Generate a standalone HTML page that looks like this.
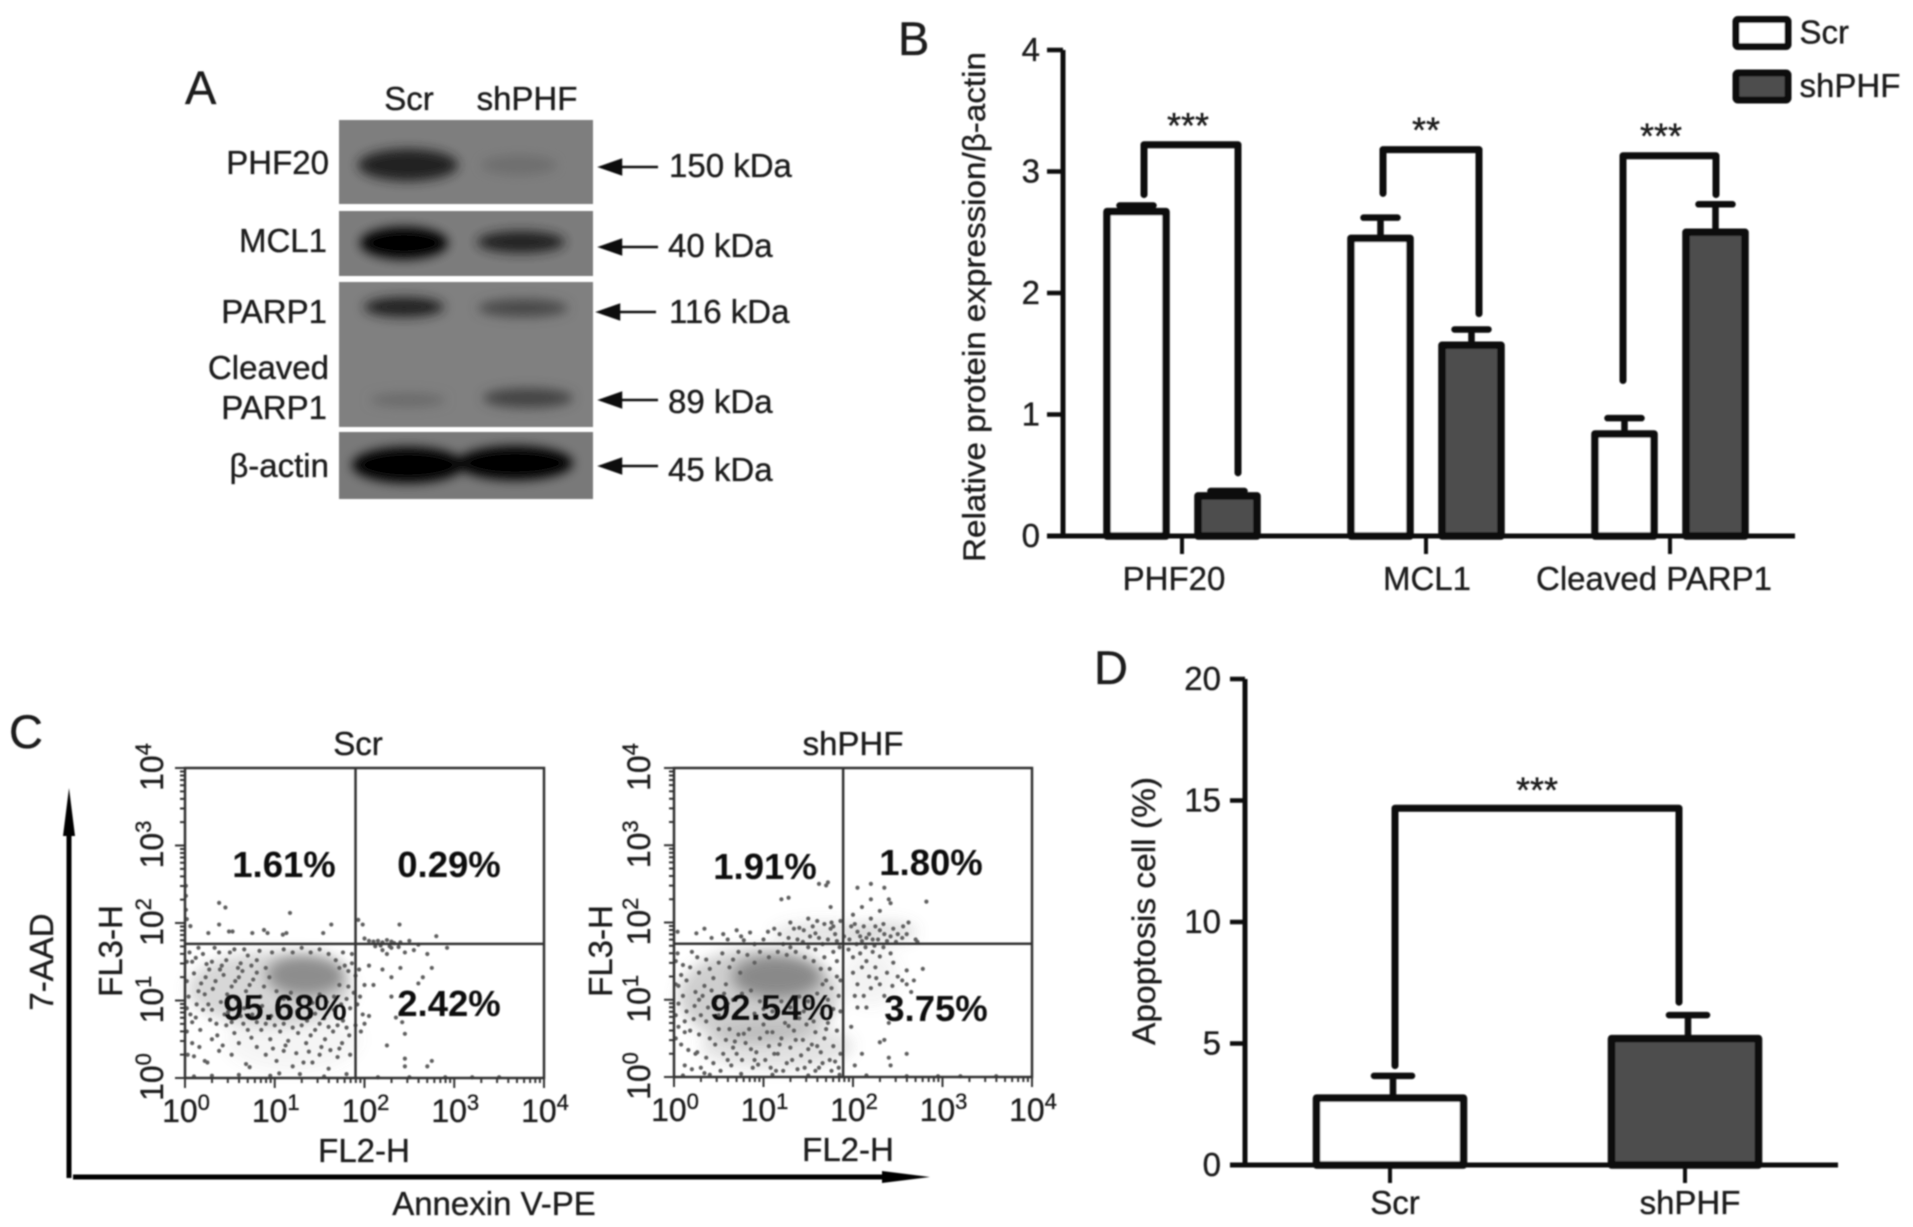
<!DOCTYPE html>
<html lang="en">
<head>
<meta charset="utf-8">
<title>PHF20 knockdown figure</title>
<style>
html,body{margin:0;padding:0;background:#fff;width:1913px;height:1227px;overflow:hidden}
svg{display:block}
text{font-family:"Liberation Sans",sans-serif;fill:#1a1a1a;stroke:#1a1a1a;stroke-width:.35}
</style>
</head>
<body>
<svg id="fig" xmlns="http://www.w3.org/2000/svg" width="1913" height="1227" viewBox="0 0 1913 1227">
<defs>
<filter id="soft" x="-2%" y="-2%" width="104%" height="104%"><feGaussianBlur stdDeviation="0.7"/></filter>
<filter id="bandBlur" x="-50%" y="-80%" width="200%" height="260%"><feGaussianBlur stdDeviation="5.5"/></filter>
<filter id="densBlur" x="-50%" y="-50%" width="200%" height="200%"><feGaussianBlur stdDeviation="7"/></filter>
</defs>
<rect width="1913" height="1227" fill="#fff"/>
<g id="root" filter="url(#soft)">

<!-- PANEL A -->
<g>
<text x="185" y="104" font-size="47">A</text>
<text x="409" y="110" font-size="33" text-anchor="middle">Scr</text>
<text x="527" y="110" font-size="33" text-anchor="middle">shPHF</text>
<rect x="339" y="120" width="254" height="84" fill="#7e7e7e"/>
<rect x="339" y="211" width="254" height="65" fill="#7c7c7c"/>
<rect x="339" y="282" width="254" height="145" fill="#808080"/>
<rect x="339" y="432" width="254" height="67" fill="#797979"/>
<clipPath id="c1"><rect x="339" y="120" width="254" height="84"/></clipPath>
<clipPath id="c2"><rect x="339" y="211" width="254" height="65"/></clipPath>
<clipPath id="c3"><rect x="339" y="282" width="254" height="145"/></clipPath>
<clipPath id="c4"><rect x="339" y="432" width="254" height="67"/></clipPath>
<g clip-path="url(#c1)"><g filter="url(#bandBlur)">
<ellipse cx="408" cy="165" rx="50" ry="16" fill="#222"/>
<ellipse cx="519" cy="165" rx="38" ry="10" fill="#6e6e6e"/>
</g></g>
<g clip-path="url(#c2)"><g filter="url(#bandBlur)">
<ellipse cx="404" cy="243" rx="44" ry="16" fill="#050505"/>
<ellipse cx="521" cy="242" rx="44" ry="11" fill="#222"/>
</g></g>
<g clip-path="url(#c3)"><g filter="url(#bandBlur)">
<ellipse cx="404" cy="307" rx="40" ry="10" fill="#222"/>
<ellipse cx="523" cy="308" rx="45" ry="9" fill="#4a4a4a"/>
<ellipse cx="408" cy="400" rx="38" ry="7" fill="#6a6a6a"/>
<ellipse cx="528" cy="398" rx="45" ry="10" fill="#444"/>
</g></g>
<g clip-path="url(#c4)"><g filter="url(#bandBlur)">
<ellipse cx="408" cy="465" rx="56" ry="18" fill="#000"/>
<ellipse cx="515" cy="463" rx="58" ry="17" fill="#000"/>
</g></g>
<g font-size="33" text-anchor="end">
<text x="329" y="174">PHF20</text>
<text x="327" y="252">MCL1</text>
<text x="327" y="323">PARP1</text>
<text x="329" y="379">Cleaved</text>
<text x="327" y="419">PARP1</text>
<text x="329" y="477">β-actin</text>
</g>
<g font-size="33">
<text x="669" y="177">150 kDa</text>
<text x="668" y="257">40 kDa</text>
<text x="669" y="323">116 kDa</text>
<text x="668" y="413">89 kDa</text>
<text x="668" y="481">45 kDa</text>
</g>
<g fill="#111" stroke="#111" stroke-width="2.5">
<path d="M601 167l20-7v14zM621 167h37"/>
<path d="M601 247l20-7v14zM621 247h37"/>
<path d="M599 312l20-7v14zM619 312h37"/>
<path d="M601 400l20-7v14zM621 400h37"/>
<path d="M601 466l20-7v14zM621 466h37"/>
</g>
</g>

<g id="panelB">
<text x="898" y="55" font-size="47">B</text>
</g>

<g id="panelC">
<text x="9" y="748" font-size="47">C</text>
<text transform="translate(53,962) rotate(-90)" font-size="33" text-anchor="middle">7-AAD</text>
<text x="494" y="1215" font-size="33" text-anchor="middle">Annexin V-PE</text>
<path d="M69 1178V830" stroke="#000" stroke-width="5" fill="none"/>
<path d="M69 788l6 48h-12z" fill="#000"/>
<path d="M73 1177H885" stroke="#000" stroke-width="5" fill="none"/>
<path d="M930 1177l-48 6v-12z" fill="#000"/>
</g>

<g id="panelD">
<text x="1094" y="684" font-size="47">D</text>
</g>
</g>
</svg>

<script>
// ---------- Panel B data ----------
const bCategories = ['PHF20', 'MCL1', 'Cleaved PARP1'];
const bSeriesNames = ['Scr', 'shPHF'];
const bScrValues = [2.67, 2.45, 0.84];
const bShphfValues = [0.33, 1.57, 2.50];
const bScrErrors = [0.05, 0.17, 0.13];
const bShphfErrors = [0.04, 0.13, 0.23];
const bTicks = [0, 1, 2, 3, 4];
const bSigLabels = ['***', '**', '***'];
const bSigTop = [3.22, 3.18, 3.13];
const bSigLeftEnd = [2.81, 2.82, 1.28];
const bSigRightEnd = [0.52, 1.83, 2.81];

// ---------- Panel D data ----------
const dCategories = ['Scr', 'shPHF'];
const dValues = [2.75, 5.2];
const dErrors = [0.92, 0.97];
const dTicks = [0, 5, 10, 15, 20];
const dSigLabel = '***';
const dSigTop = 14.68;
const dSigLeftEnd = 4.09;
const dSigRightEnd = 6.7;

// ---------- Panel C data (log10 decades: [FL2, FL3]) ----------
const logDecades = [0, 1, 2, 3, 4];
const scrGate = [1.9, 1.73];
const shGate = [1.89, 1.725];
const scrPercents = ['1.61%', '0.29%', '95.68%', '2.42%'];
const shPercents = ['1.91%', '1.80%', '92.54%', '3.75%'];
// density: [FL2, FL3, spreadX, spreadY, strength]
const scrDensity = [[1.35,1.33,0.44,0.27,0.7],[0.95,1.15,0.92,0.48,0.28],[1.2,0.5,0.75,0.42,0.07]];
const shDensity = [[1.15,1.3,0.5,0.28,0.72],[0.95,1.05,0.9,0.62,0.34],[1.15,0.4,0.85,0.3,0.2],[1.65,1.85,0.55,0.16,0.18],[2.35,1.88,0.36,0.14,0.22],[2.2,1.3,0.32,0.38,0.08]];
const scrEvents = [
[0.38,2.26],[0.45,2.2],[1.17,2.13],[1.63,1.98],[0.38,1.98],[0.49,1.89],[0.53,1.89],[0.75,1.87],[0.88,1.91],[0.92,1.87],[1.09,1.85],[1.13,1.87],[1.54,1.87],[0.26,1.87],[0.06,1.96],[0.01,2.48],[0.01,2.35],[0.01,2.17],[0.02,2.05],
[1.93,2.04],[1.98,1.98],[2.39,1.98],[2.8,1.83],[2.0,1.8],[2.05,1.77],[2.1,1.76],[2.15,1.77],[2.2,1.75],[2.25,1.78],[2.3,1.76],[2.33,1.74],[2.4,1.75],[2.5,1.77],[2.6,1.72],[2.92,1.68],[2.12,1.7],[2.18,1.71],[2.28,1.7],[2.38,1.69],
[2.2,1.65],[2.25,1.6],[2.3,1.68],[2.45,1.62],[2.55,1.65],[2.7,1.6],[2.75,1.42],[2.65,1.3],[2.6,1.22],[2.4,1.42],[2.3,1.3],[2.2,1.4],[2.05,1.45],[2.0,1.2],[1.95,1.05],[2.1,1.2],[2.3,1.05],[2.45,0.9],[2.35,0.78],[2.42,0.72],[2.45,0.57],[2.25,0.42],[2.45,0.25],[2.45,0.15],[2.7,0.15],[2.75,0.22],[2.0,0.7],[1.98,0.82],[2.05,0.8],
[0.05,1.62],[0.12,1.55],[0.2,1.6],[0.3,1.5],[0.38,1.62],[0.46,1.52],[0.55,1.66],[0.62,1.48],[0.7,1.58],[0.8,1.52],[0.1,1.35],[0.18,1.22],[0.27,1.4],[0.34,1.25],[0.43,1.33],[0.52,1.18],[0.6,1.3],[0.68,1.12],[0.76,1.27],[0.84,1.05],
[0.04,1.05],[0.13,0.95],[0.22,1.08],[0.3,0.88],[0.4,0.98],[0.48,0.85],[0.57,1.02],[0.66,0.9],[0.75,0.82],[0.86,0.93],[0.96,0.8],[1.05,0.88],[1.15,0.78],[1.25,0.86],[1.36,0.74],[1.45,0.83],[1.55,0.77],[1.66,0.88],[1.76,0.74],[1.84,0.9],
[0.08,0.72],[0.17,0.62],[0.28,0.75],[0.36,0.55],[0.46,0.68],[0.55,0.58],[0.65,0.7],[0.74,0.52],[0.85,0.62],[0.95,0.5],[1.06,0.6],[1.15,0.48],[1.26,0.58],[1.35,0.45],[1.45,0.62],[1.56,0.5],[1.65,0.6],[1.75,0.45],[1.83,0.55],
[0.1,0.28],[0.22,0.22],[0.25,0.2],[0.38,0.35],[0.52,0.3],[0.68,0.18],[0.72,0.14],[0.9,0.3],[1.02,0.22],[1.1,0.35],[1.2,0.15],[1.28,0.05],[1.32,0.2],[1.42,0.2],[1.5,0.3],[1.6,0.12],[1.7,0.27],[1.8,0.05],
[0.1,0.02],[0.3,0.03],[0.6,0.04],[0.95,0.03],[1.05,0.06],[1.55,0.02],[2.15,0.01],[2.5,0.01],[2.9,0.01],[3.2,0.01],[3.5,0.01],[0.02,0.6],[0.02,0.9],[0.02,1.25],[0.02,1.5],[0.03,0.3],
[1.86,1.6],[1.78,1.45],[1.9,1.32],[1.72,1.2],[1.94,1.4],[1.88,1.1],[1.8,1.02],[1.92,0.95],[1.9,0.68],[1.96,0.6],
[0.08,1.5],[0.15,1.68],[0.24,1.47],[0.33,1.68],[0.41,1.45],[0.5,1.62],[0.59,1.42],[0.66,1.66],[0.74,1.45],[0.83,1.64],[0.9,1.42],[0.97,1.62],[0.15,1.12],[0.23,1.3],[0.31,1.15],[0.39,1.4],[0.47,1.08],[0.56,1.25],[0.64,1.38],[0.72,1.2],[0.8,1.36],[0.88,1.18],[0.94,1.3],[1.02,1.12],[1.1,1.02],[1.18,1.1],[1.26,0.98],[1.34,1.05],[1.42,0.97],[1.5,1.08],[1.58,0.98],[1.66,1.05],[1.74,0.95],[1.82,1.18],[1.6,1.6],[1.68,1.52],[1.76,1.62],[1.82,1.38],[1.72,1.42],[1.86,1.48],[1.1,1.66],[1.2,1.62],[1.3,1.68],[1.4,1.62],[1.5,1.66],
[0.06,0.82],[0.12,0.78],[0.2,0.88],[0.26,0.95],[0.35,0.7],[0.44,0.82],[0.52,0.72],[0.62,0.8],[0.7,0.62],[0.8,0.72],[0.9,0.7],[1.0,0.68],[1.1,0.7],[1.2,0.65],[1.3,0.68],[1.4,0.55],[1.5,0.7],[1.6,0.66],[1.7,0.68],[1.8,0.65],[0.08,0.45],[0.16,0.4],[0.3,0.5],[0.42,0.42],[0.6,0.45],[0.8,0.4],[0.98,0.38],[1.12,0.42],[1.24,0.32],[1.38,0.34],[1.52,0.4],[1.62,0.36],[1.72,0.38],[1.84,0.3]
];
const shEvents = [
[1.62,2.5],[1.7,2.48],[1.72,2.52],[1.2,2.3],[1.28,2.32],[1.75,2.2],[1.76,2.0],[0.04,1.88],[0.25,1.86],[0.34,1.92],[0.75,1.82],[0.85,1.87],[1.05,1.88],[1.12,1.92],[1.3,2.0],[1.18,1.85],[1.4,1.93],[1.45,1.9],[1.55,1.95],[1.6,2.02],[1.68,1.98],[1.75,1.92],[1.8,1.85],[1.28,1.8],[1.38,1.78],[1.52,1.82],[1.62,1.8],[1.72,1.78],[1.82,1.76],[0.6,1.78],[0.78,1.77],[1.0,1.78],
[2.05,2.45],[2.2,2.5],[2.35,2.45],[2.4,2.3],[2.2,2.3],[2.1,2.2],[2.3,2.15],[2.42,2.25],[2.82,2.27],[2.0,2.1],[1.98,1.95],[2.05,1.88],[2.15,1.8],[2.25,1.95],[2.35,1.85],[2.45,1.92],[2.55,1.8],[2.62,2.0],[2.6,1.85],[2.7,1.78],[2.72,1.75],[2.2,2.05],[2.28,1.78],[2.38,1.76],[2.48,1.75],[1.96,1.78],[2.1,1.76],
[1.95,1.65],[2.0,1.55],[2.08,1.6],[2.15,1.5],[2.22,1.62],[2.25,1.42],[2.3,1.56],[2.38,1.35],[2.45,1.48],[2.5,1.3],[2.55,1.25],[2.6,1.2],[2.65,1.1],[2.6,1.38],[2.68,1.25],[2.78,1.4],[2.0,1.35],[2.05,1.2],[2.12,1.05],[2.2,1.15],[2.3,1.2],[2.35,1.05],[2.05,0.9],[2.15,0.9],[2.4,0.7],[2.35,0.48],[2.3,0.45],[2.1,0.3],[2.02,0.15],[2.4,0.25],[2.6,0.3],[2.42,0.15],[1.98,0.65],
[0.04,1.6],[0.1,1.45],[0.2,1.62],[0.28,1.35],[0.36,1.52],[0.44,1.28],[0.54,1.6],[0.62,1.42],[0.72,1.62],[0.05,1.18],[0.14,1.25],[0.24,1.1],[0.32,1.05],[0.42,1.12],[0.05,0.95],[0.14,0.85],[0.23,0.92],[0.3,0.8],[0.38,0.9],[0.05,0.65],[0.12,0.58],[0.18,0.6],[0.08,0.42],[0.16,0.35],[0.24,0.3],[0.26,0.32],[0.12,0.15],[0.2,0.1],[0.3,0.12],[0.34,0.05],
[0.4,0.5],[0.46,0.42],[0.5,0.62],[0.55,0.3],[0.58,0.48],[0.64,0.15],[0.66,0.38],[0.72,0.55],[0.76,0.22],[0.8,0.44],[0.84,0.62],[0.88,0.12],[0.92,0.32],[0.96,0.5],[1.0,0.68],[1.02,0.22],[1.06,0.4],[1.1,0.58],[1.14,0.08],[1.16,0.3],[1.2,0.5],[1.24,0.7],[1.26,0.18],[1.3,0.38],[1.34,0.6],[1.38,0.1],[1.42,0.28],[1.44,0.48],[1.48,0.68],[1.52,0.2],[1.54,0.42],[1.58,0.58],[1.62,0.12],[1.64,0.32],[1.68,0.5],[1.72,0.7],[1.74,0.22],[1.78,0.4],[1.82,0.6],[1.84,0.12],[1.86,0.3],[0.62,0.62],[0.7,0.3],[0.9,0.22],[1.12,0.3],[1.32,0.22],[1.46,0.12],[1.6,0.4],[1.76,0.08],
[0.5,0.8],[0.6,0.95],[0.7,0.78],[0.8,1.0],[0.9,0.82],[1.0,0.88],[1.45,0.85],[1.55,0.95],[1.65,0.82],[1.72,1.0],[1.78,0.88],[1.84,1.05],[1.86,0.85],[1.66,1.2],[1.74,1.4],[1.82,1.5],[1.86,1.25],[1.78,1.62],[1.68,1.55],[1.58,1.65],[1.85,1.68],[1.5,1.68],[1.3,1.68],
[0.1,0.02],[0.4,0.03],[0.75,0.04],[1.1,0.03],[1.5,0.02],[1.85,0.03],[2.15,0.02],[2.6,0.01],[2.95,0.01],[3.2,0.01],[3.6,0.01],[0.02,0.5],[0.02,0.8],[0.02,1.2],[0.02,1.5],
[0.08,1.32],[0.18,1.42],[0.26,1.55],[0.34,1.18],[0.4,1.4],[0.5,1.48],[0.58,1.2],[0.66,1.52],[0.74,1.35],[0.82,1.58],[0.9,1.48],[0.96,1.62],[1.06,1.55],[1.16,1.62],[1.26,1.58],[1.36,1.62],[1.46,1.55],[1.56,1.5],[1.64,1.4],[1.7,1.25],[1.76,1.15],[1.82,1.3],[1.6,1.08],[1.5,0.98],[1.4,1.04],[1.3,0.9],[1.2,0.98],[1.1,0.85],[0.96,0.98],[0.86,1.12],[0.76,1.08],[0.66,1.0],[0.56,1.08],[0.46,0.98],[0.36,0.72],[0.28,1.0],[0.22,0.75],[0.1,1.05],[0.12,0.72],[0.28,0.55],[0.36,0.25],[0.44,0.18],[0.52,0.08],[0.6,0.22],[0.68,0.46],[0.78,0.56],[0.86,0.36],[0.94,0.16],[1.04,0.58],[1.08,0.12],[1.18,0.42],[1.22,0.08],[1.28,0.66],[1.36,0.48],[1.4,0.76],[1.5,0.36],[1.56,0.72],[1.66,0.18],[1.7,0.62],[1.8,0.2],[1.58,0.08],
[0.9,1.72],[0.7,1.9],[0.55,1.85],[0.42,1.8],[1.22,1.72],[1.34,1.92],[1.44,1.75],[1.5,2.05],[1.58,1.86],[1.66,1.72],[1.78,1.95],[1.86,2.02],[1.9,1.82],[2.02,1.98],[2.08,1.82],[2.12,1.95],[2.18,1.85],[2.22,1.78],[2.3,1.9],[2.34,1.98],[2.42,1.82],[2.5,1.85],[2.56,1.95],[2.04,1.72],[2.14,1.68],[2.24,1.7],[2.34,1.68],[2.42,1.6],[2.1,1.42],[2.18,1.3],[2.26,1.28],[2.44,1.18],[2.02,1.05]
];

// ---------- helpers ----------
const NS = 'http://www.w3.org/2000/svg';
const linear = (d0, d1, r0, r1) => v => r0 + (v - d0) * (r1 - r0) / (d1 - d0);
function make(tag, attrs, parent, text) {
  const n = document.createElementNS(NS, tag);
  for (const k in attrs) n.setAttribute(k, attrs[k]);
  if (text !== undefined) n.textContent = text;
  parent.appendChild(n);
  return n;
}
function slug(s) { return String(s).toLowerCase().replace(/[^a-z0-9]+/g, '-'); }

// ---------- bar-chart panels ----------
function drawBar(g, cx, halfW, yTop, yBase, fill, name) {
  const r = make('rect', {x: cx - halfW, y: yTop, width: 2 * halfW, height: yBase - yTop, fill: fill, stroke: '#0a0a0a', 'stroke-width': 7.5, 'stroke-linejoin': 'round'}, g);
  
  
}
function drawError(g, cx, yFrom, yTo, capHalf, name) {
  const p = make('path', {d: `M${cx} ${yFrom}V${yTo}M${cx - capHalf} ${yTo}H${cx + capHalf}`, fill: 'none', stroke: '#0a0a0a', 'stroke-width': 6.5, 'stroke-linecap': 'round'}, g);
  
  
}
function drawBracket(g, xl, xr, yl, yt, yr, name) {
  const p = make('path', {d: `M${xl} ${yl}V${yt}H${xr}V${yr}`, fill: 'none', stroke: '#0a0a0a', 'stroke-width': 7, 'stroke-linecap': 'round', 'stroke-linejoin': 'round'}, g);
  
  
}

(function panelB() {
  const g = document.getElementById('panelB');
  const y = linear(0, 4, 536, 50);
  const band = linear(0, 2, 1182, 1670);
  const OFF = 45.5, HALF = 29.5;
  const labelDx = [-8, 1, -16];
  const bracketDxL = [-38, -43, -47];
  const bracketDxR = [56, 53, 46];
  const starDx = [6, 0, -9];
  bTicks.forEach(t => {
    const tick = make('path', {d: `M1047 ${y(t)}H1063`, stroke: '#0a0a0a', 'stroke-width': 4.5}, g);
    
    
    const lab = make('text', {x: 1040, y: y(t) + 11, 'font-size': 33, 'text-anchor': 'end'}, g, t);
    
    
  });
  const title = make('text', {transform: 'translate(985,307) rotate(-90)', 'font-size': 31.5, 'text-anchor': 'middle', textLength: 510, lengthAdjust: 'spacingAndGlyphs'}, g, 'Relative protein expression/β-actin');
  
  

  bCategories.forEach((c, i) => {
    const cx = band(i), sc = slug(c);
    drawError(g, cx - OFF, y(bScrValues[i]), y(bScrValues[i] + bScrErrors[i]), 17, sc + '-scr');
    drawError(g, cx + OFF, y(bShphfValues[i]), y(bShphfValues[i] + bShphfErrors[i]), 17, sc + '-shphf');
    drawBar(g, cx - OFF, HALF, y(bScrValues[i]), y(0), '#fff', sc + '-scr');
    drawBar(g, cx + OFF, HALF, y(bShphfValues[i]), y(0), '#4d4d4d', sc + '-shphf');
    drawBracket(g, cx + bracketDxL[i], cx + bracketDxR[i], y(bSigLeftEnd[i]), y(bSigTop[i]), y(bSigRightEnd[i]), sc);
    const star = make('text', {x: cx + starDx[i], y: y(bSigTop[i]) - 7, 'font-size': 36, 'text-anchor': 'middle'}, g, bSigLabels[i]);
    
    
    const tick = make('path', {d: `M${cx} ${y(0)}V${y(0) + 18}`, stroke: '#0a0a0a', 'stroke-width': 4}, g);
    
    
    const lab = make('text', {x: cx + labelDx[i], y: 590, 'font-size': 33, 'text-anchor': 'middle'}, g, c);
    
    
  });
  const yAxis = make('path', {d: `M1063 ${y(4)}V${y(0)}`, stroke: '#0a0a0a', 'stroke-width': 5}, g);
  
  
  const xAxis = make('path', {d: `M1047 ${y(0)}H1795`, stroke: '#0a0a0a', 'stroke-width': 5}, g);
  
  

  bSeriesNames.forEach((s, i) => {
    const top = i === 0 ? 19.5 : 73;
    const box = make('rect', {x: 1736, y: top, width: 52, height: 27, fill: i === 0 ? '#fff' : '#4d4d4d', stroke: '#0a0a0a', 'stroke-width': 7, rx: 2}, g);
    
    
    const lab = make('text', {x: 1799.5, y: top + 24, 'font-size': 33}, g, s);
    
    
  });
})();

(function panelD() {
  const g = document.getElementById('panelD');
  const y = linear(0, 20, 1165, 679);
  const band = linear(0, 1, 1390, 1685);
  const HALF = 73.5;
  dTicks.forEach(t => {
    const tick = make('path', {d: `M1230 ${y(t)}H1245`, stroke: '#0a0a0a', 'stroke-width': 4.5}, g);
    
    
    const lab = make('text', {x: 1221, y: y(t) + 11, 'font-size': 33, 'text-anchor': 'end'}, g, t);
    
    
  });
  const title = make('text', {transform: 'translate(1155,911) rotate(-90)', 'font-size': 32, 'text-anchor': 'middle', textLength: 268, lengthAdjust: 'spacingAndGlyphs'}, g, 'Apoptosis cell (%)');
  
  
  dCategories.forEach((c, i) => {
    const cx = band(i), sc = slug(c);
    drawError(g, cx + 3, y(dValues[i]), y(dValues[i] + dErrors[i]), 19, 'd-' + sc);
    drawBar(g, cx, HALF, y(dValues[i]), y(0), i === 0 ? '#fff' : '#4d4d4d', 'd-' + sc);
    const tick = make('path', {d: `M${cx} ${y(0)}V${y(0) + 18}`, stroke: '#0a0a0a', 'stroke-width': 4}, g);
    
    
    const lab = make('text', {x: cx + 5, y: 1214, 'font-size': 33, 'text-anchor': 'middle'}, g, c);
    
    
  });
  drawBracket(g, band(0) + 5, band(1) - 6, y(dSigLeftEnd), y(dSigTop), y(dSigRightEnd), 'd');
  const star = make('text', {x: 1537, y: y(dSigTop) - 6, 'font-size': 36, 'text-anchor': 'middle'}, g, dSigLabel);
  
  
  const yAxis = make('path', {d: `M1245 ${y(20)}V${y(0)}`, stroke: '#0a0a0a', 'stroke-width': 5}, g);
  
  
  const xAxis = make('path', {d: `M1230 ${y(0)}H1838`, stroke: '#0a0a0a', 'stroke-width': 5}, g);
  
  
})();

// ---------- flow-cytometry plots ----------
function pow10Label(parent, attrs, exp, name) {
  const t = make('text', attrs, parent);
  
  
  make('tspan', {'font-size': 32}, t, '10');
  make('tspan', {'font-size': 22, dy: -12}, t, exp);
  return t;
}
function flowPlot(cfg) {
  const root = document.getElementById('panelC');
  const g = make('g', {}, root);
  
  
  const x = linear(0, 4, cfg.x0, cfg.x1);
  const y = linear(0, 4, cfg.y0, cfg.y1);
  const dens = make('g', {filter: 'url(#densBlur)'}, g);
  
  
  cfg.density.forEach(d => {
    make('ellipse', {cx: x(d[0]), cy: y(d[1]), rx: x(d[2]) - x(0), ry: y(0) - y(d[3]), fill: '#6e6e6e', opacity: d[4]}, dens);
  });
  const pts = make('g', {fill: '#5f5f5f'}, g);
  
  
  cfg.events.forEach(e => {
    make('circle', {cx: x(e[0]), cy: y(e[1]), r: 2.1}, pts);
  });
  const box = make('rect', {x: cfg.x0, y: cfg.y1, width: cfg.x1 - cfg.x0, height: cfg.y0 - cfg.y1, fill: 'none', stroke: '#333', 'stroke-width': 2.5}, g);
  
  
  const q = make('path', {d: `M${x(cfg.gate[0])} ${cfg.y1}V${cfg.y0}M${cfg.x0} ${y(cfg.gate[1])}H${cfg.x1}`, fill: 'none', stroke: '#333', 'stroke-width': 2.5}, g);
  
  
  let logTicks = '';
  cfg.decades.forEach(dec => {
    logTicks += `M${x(dec)} ${cfg.y0}v10M${cfg.x0} ${y(dec)}h-10`;
    if (dec < 4) for (let k = 2; k < 10; k++) {
      const o = dec + Math.log10(k);
      logTicks += `M${x(o)} ${cfg.y0}v5M${cfg.x0} ${y(o)}h-5`;
    }
  });
  const ticks = make('path', {d: logTicks, fill: 'none', stroke: '#333', 'stroke-width': 2}, g);
  
  
  cfg.decades.forEach(dec => {
    pow10Label(g, {x: x(dec) + 1, y: cfg.y0 + 44, 'text-anchor': 'middle'}, dec, cfg.id + '-x-tick-label-' + dec);
    pow10Label(g, {transform: `translate(${cfg.yLabelX},${y(dec) - 1}) rotate(-90)`, 'text-anchor': 'middle'}, dec, cfg.id + '-y-tick-label-' + dec);
  });
  const title = make('text', {x: cfg.titleX, y: 755, 'font-size': 33, 'text-anchor': 'middle'}, g, cfg.title);
  
  
  const xl = make('text', {x: cfg.xLabelX, y: cfg.y0 + 84, 'font-size': 33, 'text-anchor': 'middle'}, g, 'FL2-H');
  
  
  const yl = make('text', {transform: `translate(${cfg.yTitleX},951) rotate(-90)`, 'font-size': 33, 'text-anchor': 'middle'}, g, 'FL3-H');
  
  
  cfg.percents.forEach((p, i) => {
    const t = make('text', {x: cfg.pctPos[i][0], y: cfg.pctPos[i][1] + 10, 'font-size': 36.5, 'font-weight': 'bold', 'text-anchor': 'middle', style: 'fill:#111;stroke:none'}, g, p);
    
    
  });
}
flowPlot({id: 'scr', title: 'Scr', x0: 185, x1: 544, y0: 1078, y1: 768, gate: scrGate, decades: logDecades, events: scrEvents, density: scrDensity, percents: scrPercents,
  pctPos: [[284, 867], [449, 867], [285, 1010], [449, 1006]], yLabelX: 163, yTitleX: 122, titleX: 358, xLabelX: 364});
flowPlot({id: 'shphf', title: 'shPHF', x0: 674, x1: 1032, y0: 1077, y1: 768, gate: shGate, decades: logDecades, events: shEvents, density: shDensity, percents: shPercents,
  pctPos: [[765, 869], [931, 865], [772, 1010], [936, 1011]], yLabelX: 650, yTitleX: 612, titleX: 853, xLabelX: 848});
</script>
</body>
</html>
